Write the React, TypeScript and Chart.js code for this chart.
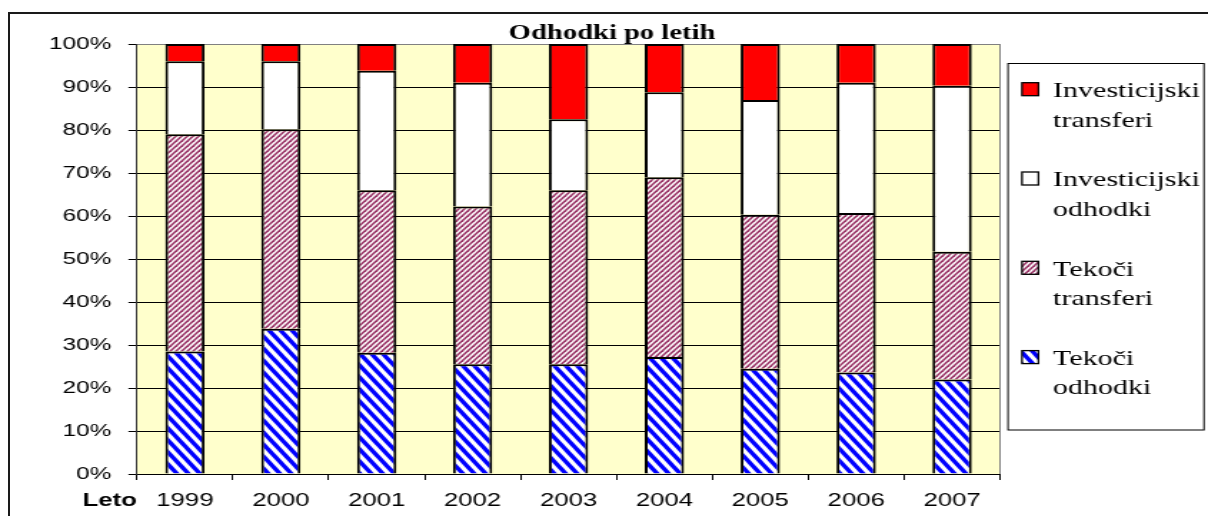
import React, { useEffect, useRef } from 'react';
import { Chart, registerables } from 'chart.js';

Chart.register(...registerables);

// ---- data ----
const years = ['1999', '2000', '2001', '2002', '2003', '2004', '2005', '2006', '2007'];
const tekociOdhodki = [28.5, 33.8, 28.2, 25.5, 25.5, 27.2, 24.5, 23.6, 22.0];
const tekociTransferi = [50.5, 46.4, 37.8, 36.7, 40.5, 41.8, 35.8, 37.1, 29.7];
const investicijskiOdhodki = [17.0, 15.8, 27.8, 28.8, 16.5, 19.8, 26.7, 30.3, 38.6];
const investicijskiTransferi = [4.0, 4.0, 6.2, 9.0, 17.5, 11.2, 13.0, 9.0, 9.7];
const seriesLabels = ['Tekoči odhodki', 'Tekoči transferi', 'Investicijski odhodki', 'Investicijski transferi'];
const chartTitle = 'Odhodki po letih';
const xAxisLabel = 'Leto';

// ---- geometry (logical canvas, stretched horizontally by CSS) ----
const PAGE_W = 1208;
const PAGE_H = 516;
const LOGICAL_W = 845;
const S = PAGE_W / LOGICAL_W;
const px = (physical: number) => physical / S;

function stripePattern(color: string, w: number, h: number, lw: number, dir: 'down' | 'up') {
  const c = document.createElement('canvas');
  c.width = w;
  c.height = h;
  const g = c.getContext('2d')!;
  g.fillStyle = '#ffffff';
  g.fillRect(0, 0, w, h);
  g.strokeStyle = color;
  g.lineWidth = lw;
  for (let k = -1; k <= 1; k++) {
    g.beginPath();
    if (dir === 'down') {
      g.moveTo(-w, k * h - h);
      g.lineTo(2 * w, k * h + 2 * h);
    } else {
      g.moveTo(-w, k * h + 2 * h);
      g.lineTo(2 * w, k * h - h);
    }
    g.stroke();
  }
  return g.createPattern(c, 'repeat')!;
}

const decorPlugin = {
  id: 'decor',
  beforeDraw(chart: any) {
    const { ctx, chartArea: a } = chart;
    ctx.save();
    ctx.fillStyle = '#FFFFCC';
    ctx.fillRect(a.left, a.top, a.right - a.left, a.bottom - a.top);
    ctx.restore();
  },
  afterDraw(chart: any) {
    const { ctx, chartArea: a } = chart;
    ctx.save();
    // plot area right border
    ctx.strokeStyle = '#808080';
    ctx.lineWidth = 1;
    ctx.beginPath();
    ctx.moveTo(a.right, a.top);
    ctx.lineTo(a.right, a.bottom);
    ctx.stroke();

    // title
    ctx.fillStyle = '#000';
    ctx.font = 'bold 20px "Liberation Serif", "Times New Roman", serif';
    ctx.textAlign = 'center';
    ctx.textBaseline = 'alphabetic';
    ctx.fillText(chartTitle, px(612), 39);

    // axis label
    ctx.font = 'bold 18px "Liberation Sans", Arial, sans-serif';
    ctx.textAlign = 'right';
    ctx.fillText(xAxisLabel, px(137), 506);

    // legend
    const bx = px(1008);
    const bw = px(1204) - bx;
    ctx.strokeStyle = '#000';
    ctx.lineWidth = 1;
    ctx.strokeRect(bx, 63.5, bw, 366.5);
    const ds = chart.data.datasets.slice().reverse();
    ctx.font = '21px "Liberation Serif", "Times New Roman", serif';
    ctx.textAlign = 'left';
    ds.forEach((d: any, i: number) => {
      const base = 97 + i * 89.3;
      const sx = px(1022);
      const sy = base - 14.3;
      ctx.fillStyle = d.backgroundColor;
      ctx.fillRect(sx, sy, 11.5, 13);
      ctx.strokeStyle = '#000';
      ctx.lineWidth = 1.3;
      ctx.strokeRect(sx, sy, 11.5, 13);
      ctx.fillStyle = '#000';
      const words = String(d.label).split(' ');
      words.forEach((w: string, j: number) => {
        ctx.fillText(w, px(1053), base + j * 29.5);
      });
    });
    ctx.restore();
  },
};

export default function App() {
  const canvasRef = useRef<HTMLCanvasElement | null>(null);

  useEffect(() => {
    const canvas = canvasRef.current;
    if (!canvas) return;
    const blue = stripePattern('#0000FF', 8, 12, 3.4, 'down');
    const maroon = stripePattern('#993366', 4, 5, 1.6, 'up');
    const common = {
      borderColor: '#000000',
      borderWidth: 2,
      barPercentage: 0.41,
      categoryPercentage: 1.0,
    };
    const chart = new Chart(canvas, {
      type: 'bar',
      data: {
        labels: years,
        datasets: [
          { label: seriesLabels[0], data: tekociOdhodki, backgroundColor: blue, ...common },
          { label: seriesLabels[1], data: tekociTransferi, backgroundColor: maroon, ...common },
          { label: seriesLabels[2], data: investicijskiOdhodki, backgroundColor: '#FFFFFF', ...common },
          { label: seriesLabels[3], data: investicijskiTransferi, backgroundColor: '#FF0000', ...common },
        ],
      },
      options: {
        responsive: false,
        animation: false,
        devicePixelRatio: 1,
        layout: { padding: { top: 44, right: LOGICAL_W - px(1000), bottom: 0, left: 0 } },
        plugins: {
          legend: { display: false },
          title: { display: false },
          tooltip: { enabled: false },
        },
        scales: {
          x: {
            stacked: true,
            offset: true,
            grid: {
              display: true,
              drawOnChartArea: false,
              drawTicks: true,
              tickLength: 6,
              color: '#000',
              offset: true,
            },
            border: { display: true, color: '#000', width: 1 },
            ticks: {
              color: '#000',
              font: { family: '"Liberation Sans", Arial, sans-serif', size: 18 },
              padding: 10,
              maxRotation: 0,
              autoSkip: false,
            },
            afterFit: (s: any) => {
              s.height = PAGE_H - 474;
            },
          },
          y: {
            stacked: true,
            min: 0,
            max: 100,
            ticks: {
              stepSize: 10,
              callback: (v: any) => v + '%',
              color: '#000',
              font: { family: '"Liberation Sans", Arial, sans-serif', size: 17 },
              padding: 12,
            },
            grid: {
              color: (c: any) => (c.tick && c.tick.value === 100 ? '#808080' : '#000'),
              tickColor: '#000',
              tickLength: 6,
              lineWidth: 1,
            },
            border: { display: true, color: '#333', width: 1 },
            afterFit: (s: any) => {
              s.width = px(137);
            },
          },
        },
      },
      plugins: [decorPlugin],
    } as any);
    return () => chart.destroy();
  }, []);

  return (
    <div
      style={{
        position: 'fixed',
        left: 0,
        top: 0,
        width: PAGE_W,
        height: PAGE_H,
        overflow: 'hidden',
        background: '#fff',
      }}
    >
      <div
        style={{
          position: 'absolute',
          left: 8,
          top: 12,
          width: 1400,
          height: 700,
          border: '2px solid #1a1a1a',
        }}
      />
      <canvas
        ref={canvasRef}
        width={LOGICAL_W}
        height={PAGE_H}
        style={{ position: 'absolute', left: 0, top: 0, width: PAGE_W + 'px', height: PAGE_H + 'px' }}
      />
    </div>
  );
}
